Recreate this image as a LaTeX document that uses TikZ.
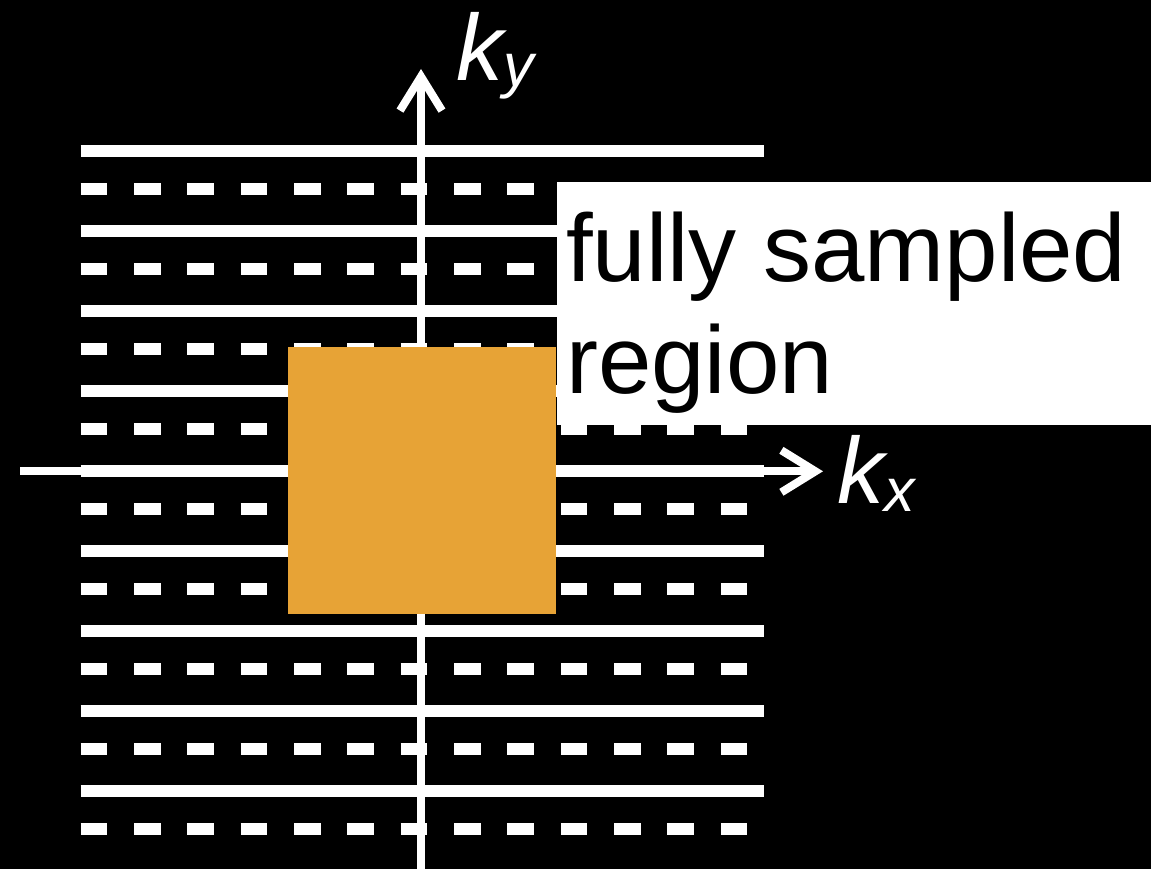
\documentclass[tikz,border=0pt]{standalone}
\usepackage{fontspec}
\setmainfont{Liberation Sans}
\usetikzlibrary{arrows.meta}
\definecolor{fsorange}{HTML}{E7A336}
\tikzset{
  solidline/.style={white, line width=12.7pt, line cap=butt},
  dashline/.style={white, line width=12.7pt, line cap=butt, dash pattern=on 26.67pt off 26.67pt},
  axisline/.style={white, line width=8pt, -{Straight Barb[length=34pt,width=42pt]}},
  axislabel/.style={white, anchor=base west, inner sep=0pt, font=\fontsize{94}{94}\selectfont\itshape},
  boxtext/.style={black, anchor=base west, inner sep=0pt, font=\fontsize{96}{112}\selectfont}
}
\begin{document}
\begin{tikzpicture}[x=1pt,y=-1pt]
\fill[black] (0,0) rectangle (1151,869);
\useasboundingbox (0,0) rectangle (1151,869);
% solid sampled lines
\foreach \y in {151,231,311,391,471,551,631,711,791}
  \draw[solidline] (80.7,\y) -- (764,\y);
% dashed (unsampled) lines
\foreach \y in {189,269,349,429,509,589,669,749,829}
  \draw[dashline] (80.7,\y) -- (747.4,\y);
% axes
\coordinate (ybot) at (421,869);
\coordinate (ytop) at (421,69);
\coordinate (xleft) at (20,471.3);
\coordinate (xright) at (823,471.3);
\draw[axisline] (ybot) -- (ytop);
\draw[axisline] (xleft) -- (xright);
% label box
\node[fill=white, draw=none, inner sep=0pt, minimum width=594pt, minimum height=243pt, anchor=north west] (box) at (557,182) {};
\node[boxtext] (t1) at (566,281.7) {fully sampled};
\node[boxtext] (t2) at (566,393.3) {region};
% fully sampled center
\node[fill=fsorange, draw=none, inner sep=0pt, minimum width=267.5pt, minimum height=266.5pt, anchor=north west] (center) at (288,347) {};
% axis labels
\node[axislabel] (kx) at (837,503.3) {k\raisebox{-8pt}{\fontsize{61}{61}\selectfont x}};
\node[axislabel] (ky) at (456,81) {k\raisebox{-6pt}{\fontsize{61}{61}\selectfont y}};
\end{tikzpicture}
\end{document}
